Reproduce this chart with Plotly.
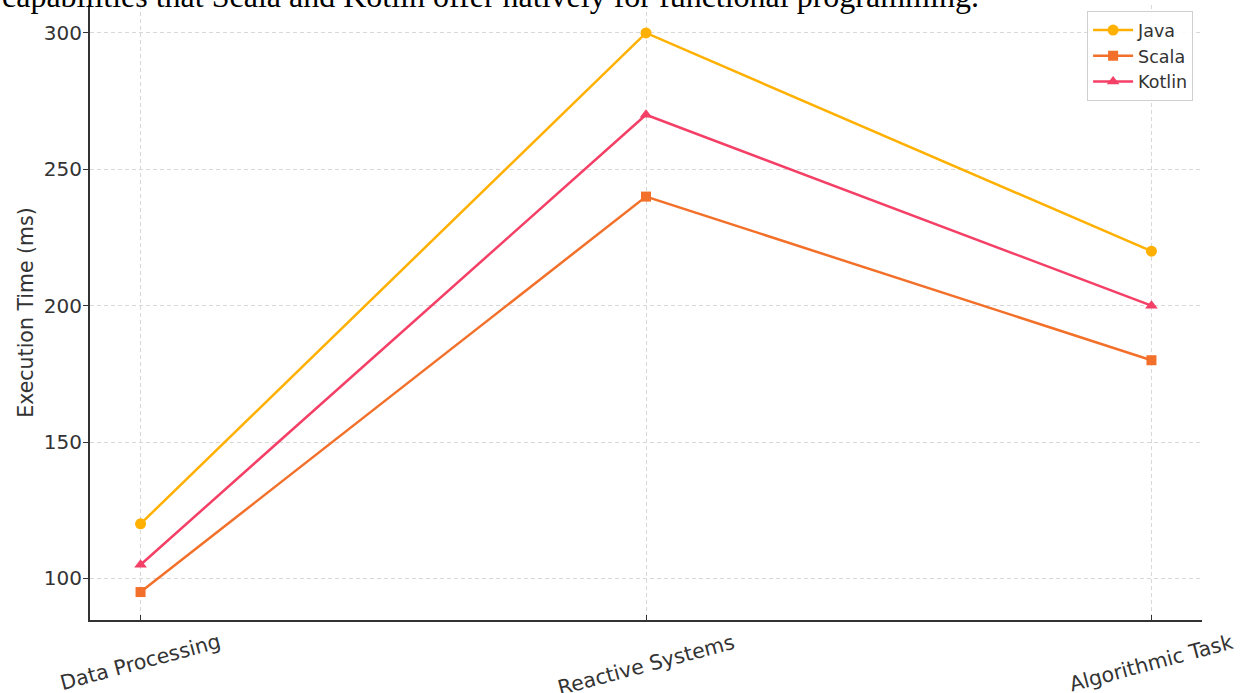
import plotly.graph_objects as go

# Benchmark categories and execution times (ms) per language
tasks = ["Data Processing", "Reactive Systems", "Algorithmic Task"]
java_ms = [120, 300, 220]
scala_ms = [95, 240, 180]
kotlin_ms = [105, 270, 200]

y_ticks = [100, 150, 200, 250, 300]

caption = "capabilities that Scala and Kotlin offer natively for functional programming."

series = [
    ("Java", java_ms, "#FFB000", "circle", 11),
    ("Scala", scala_ms, "#F2702A", "square", 10),
    ("Kotlin", kotlin_ms, "#F43F66", "triangle-up", 11),
]

fig = go.Figure()
for name, vals, color, symbol, msize in series:
    fig.add_trace(go.Scatter(
        x=list(range(len(tasks))),
        y=vals,
        name=name,
        mode="lines+markers",
        line=dict(color=color, width=2.5),
        marker=dict(color=color, symbol=symbol, size=msize),
    ))

tick_font = dict(family="DejaVu Sans", size=20, color="#333333")
label_font = dict(family="DejaVu Sans", size=20.5, color="#333333")
grid = dict(showgrid=True, gridcolor="#D8D8D8", griddash="4px,3px", gridwidth=1)

# Rotated category labels, centred under each tick
cat_labels = [
    dict(text=t, x=i, xref="x", y=0, yref="paper",
         xanchor="center", yanchor="top", yshift=-7,
         textangle=-15, showarrow=False, font=label_font)
    for i, t in enumerate(tasks)
]

fig.update_layout(
    width=1240,
    height=693,
    margin=dict(l=90, r=38, t=5, b=73),
    paper_bgcolor="white",
    plot_bgcolor="white",
    showlegend=True,
    legend=dict(
        x=0.992, y=0.99, xanchor="right", yanchor="top",
        bgcolor="rgba(255,255,255,0.9)",
        bordercolor="#D0D0D0", borderwidth=1,
        font=dict(family="DejaVu Sans", size=17.5, color="#333333"),
        itemwidth=40,
    ),
    xaxis=dict(
        range=[-0.1, 2.1],
        tickmode="array",
        tickvals=list(range(len(tasks))),
        showticklabels=False,
        showline=True, linecolor="#333333", linewidth=2,
        ticks="inside", ticklen=5, tickcolor="#333333",
        zeroline=False,
        **grid,
    ),
    yaxis=dict(
        range=[84.75, 310.25],
        tickmode="array",
        tickvals=y_ticks,
        tickfont=tick_font,
        ticklabelstandoff=-3,
        title=dict(text="Execution Time (ms)", font=label_font, standoff=5),
        showline=True, linecolor="#333333", linewidth=2,
        ticks="outside", ticklen=5, tickcolor="#333333",
        zeroline=False,
        **grid,
    ),
    annotations=cat_labels + [dict(
        text=caption,
        xref="paper", yref="paper",
        x=-0.081, y=1, xanchor="left", yanchor="bottom",
        yshift=-11,
        showarrow=False,
        font=dict(family="Liberation Serif", size=32, color="#000000"),
    )],
)

fig.write_html("out.html")
